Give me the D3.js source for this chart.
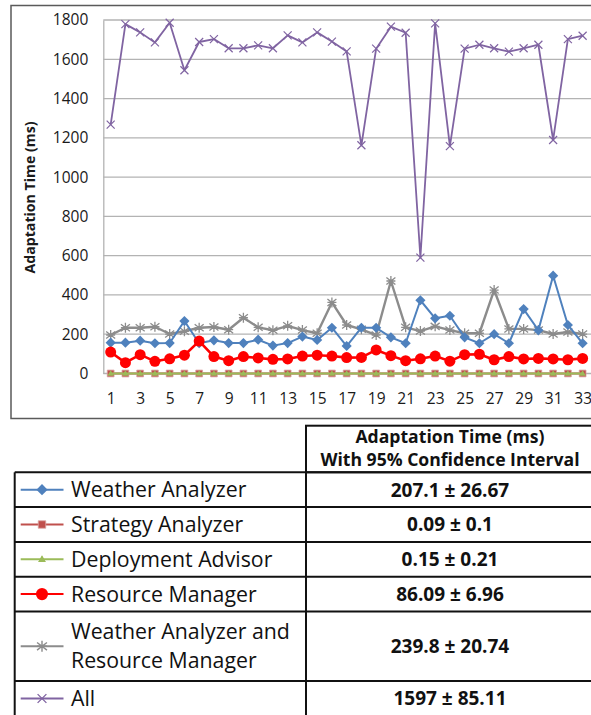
<!DOCTYPE html>
<html>
<head>
<meta charset="utf-8">
<script src="https://cdn.jsdelivr.net/npm/d3@7.9.0/dist/d3.min.js"></script>
<style>
  html, body { margin: 0; padding: 0; background: #fff; }
  svg { display: block; font-family: "Open Sans", "Noto Sans", sans-serif; }
</style>
</head>
<body>
<svg id="chart" width="591" height="715"></svg>
<script>
// run index 1..33
const runs = d3.range(1, 34);
const yTicks = [0, 200, 400, 600, 800, 1000, 1200, 1400, 1600, 1800];

const weatherAnalyzer = [157, 157, 167, 154, 155, 267, 154, 169, 155, 155, 172, 142, 155, 188, 171, 233, 140,
  233, 233, 184, 154, 373, 281, 294, 184, 154, 200, 154, 328, 220, 498, 247, 154];
const strategyAnalyzer = [0.1, 0, 0.1, 0, 0.2, 0.1, 0, 0.1, 0.2, 0, 0.1, 0.1, 0, 0.2, 0.1, 0, 0.1,
  0.1, 0, 0.2, 0.1, 0, 0.1, 0.1, 0, 0.2, 0.1, 0, 0.1, 0.1, 0, 0.2, 0.1];
const deploymentAdvisor = [0.2, 0.1, 0, 0.3, 0.1, 0.2, 0.1, 0, 0.2, 0.3, 0.1, 0, 0.2, 0.1, 0.3, 0.1, 0,
  0.2, 0.1, 0.3, 0, 0.2, 0.1, 0.1, 0.3, 0, 0.2, 0.1, 0.1, 0.3, 0, 0.2, 0.1];
const resourceManager = [109, 55, 96, 62, 75, 93, 165, 86, 65, 86, 79, 72, 74, 89, 93, 89, 81,
  82, 120, 91, 65, 75, 89, 63, 96, 98, 70, 86, 74, 77, 74, 70, 77];
const weatherAndResource = [196, 233, 233, 238, 201, 215, 233, 237, 223, 284, 235, 220, 243, 221, 205, 362, 247,
  225, 196, 471, 235, 216, 240, 221, 205, 205, 425, 227, 227, 221, 201, 211, 201];
const allComponents = [1267, 1779, 1737, 1686, 1786, 1544, 1688, 1703, 1656, 1656, 1671, 1656, 1722, 1686, 1737, 1690, 1640,
  1162, 1654, 1766, 1735, 590, 1783, 1158, 1654, 1674, 1656, 1639, 1656, 1674, 1189, 1703, 1720];

const seriesNames = [["Weather Analyzer"], ["Strategy Analyzer"], ["Deployment Advisor"], ["Resource Manager"],
  ["Weather Analyzer and", "Resource Manager"], ["All"]];
const seriesValues = [weatherAnalyzer, strategyAnalyzer, deploymentAdvisor, resourceManager, weatherAndResource, allComponents];
const seriesColors = ["#4f81bd", "#c0504d", "#9bbb59", "#ff0000", "#8c8c8c", "#8064a2"];
const seriesMarkers = ["diamond", "square", "triangle", "circle", "star", "cross"];
const intervalText = ["207.1 \u00b1 26.67", "0.09 \u00b1 0.1", "0.15 \u00b1 0.21", "86.09 \u00b1 6.96", "239.8 \u00b1 20.74", "1597 \u00b1 85.11"];
const headerLines = ["Adaptation Time (ms)", "With 95% Confidence Interval"];

const svg = d3.select("#chart");

// ---- chart frame ----
svg.append("rect")
  .attr("x", 11).attr("y", 5.5).attr("width", 620).attr("height", 413)
  .attr("fill", "none").attr("stroke", "#5a5a5a").attr("stroke-width", 1.5);

const plot = { left: 103.3, right: 590, top: 20, bottom: 373.5 };
const x = d3.scalePoint().domain(runs).range([plot.left, plot.right]).padding(0.5);
const y = d3.scaleLinear().domain([0, 1800]).range([plot.bottom, plot.top]);

// gridlines
svg.append("g")
  .selectAll("line")
  .data(yTicks)
  .join("line")
  .attr("x1", plot.left).attr("x2", 595)
  .attr("y1", d => y(d)).attr("y2", d => y(d))
  .attr("stroke", "#b3b3b3").attr("stroke-width", 1.3);

// y axis
const yAxis = svg.append("g")
  .attr("transform", `translate(${plot.left},0)`)
  .call(d3.axisLeft(y).tickValues(yTicks).tickFormat(d3.format("d")).tickSize(0).tickPadding(15));
yAxis.select(".domain").attr("stroke", "#b3b3b3").attr("stroke-width", 1.3);
yAxis.selectAll("text").attr("font-size", 15.5).attr("fill", "#1a1a1a").attr("font-family", "Open Sans");

// x axis labels (odd runs only)
const xAxis = svg.append("g")
  .attr("transform", `translate(0,${plot.bottom})`)
  .call(d3.axisBottom(x).tickValues(runs.filter(d => d % 2 === 1)).tickSize(0).tickPadding(19));
xAxis.select(".domain").remove();
xAxis.selectAll("text").attr("font-size", 15.5).attr("fill", "#1a1a1a").attr("font-family", "Open Sans");

svg.append("text")
  .attr("transform", `translate(35,197.5) rotate(-90)`)
  .attr("text-anchor", "middle")
  .attr("font-size", 14).attr("font-weight", "bold").attr("fill", "#1a1a1a")
  .attr("textLength", 152).attr("lengthAdjust", "spacingAndGlyphs")
  .text("Adaptation Time (ms)");

// ---- marker drawing ----
function drawMarker(g, type, color, cx, cy, scale) {
  const s = scale || 1;
  if (type === "diamond") {
    g.append("path")
      .attr("d", d3.symbol(d3.symbolSquare, 52 * s * s)())
      .attr("transform", `translate(${cx},${cy}) rotate(45)`)
      .attr("fill", color);
  } else if (type === "square") {
    g.append("path")
      .attr("d", d3.symbol(d3.symbolSquare, 46 * s * s)())
      .attr("transform", `translate(${cx},${cy})`)
      .attr("fill", color).attr("stroke", "#d9a3a1").attr("stroke-width", 0.8);
  } else if (type === "triangle") {
    g.append("path")
      .attr("d", d3.symbol(d3.symbolTriangle, 18 * s * s)())
      .attr("transform", `translate(${cx},${cy + 0.5})`)
      .attr("fill", color);
  } else if (type === "circle") {
    g.append("circle")
      .attr("cx", cx).attr("cy", cy).attr("r", 5.5 * s)
      .attr("fill", color);
  } else if (type === "star") {
    g.append("path")
      .attr("d", `M0,-5L0,5M-4.5,-3.5L4.5,3.5M-4.5,3.5L4.5,-3.5M-4.5,0L-1,0M1,0L4.5,0`)
      .attr("transform", `translate(${cx},${cy}) scale(${s})`)
      .attr("stroke", color).attr("stroke-width", 1.3).attr("fill", "none");
  } else if (type === "cross") {
    g.append("path")
      .attr("d", `M-4,-4L4,4M-4,4L4,-4`)
      .attr("transform", `translate(${cx},${cy}) scale(${s})`)
      .attr("stroke", color).attr("stroke-width", 1.2).attr("fill", "none");
  }
}

const lineWidths = [2, 2, 2, 2.6, 2.4, 1.8];
const line = d3.line().x((d, i) => x(runs[i])).y(d => y(d));

// draw in an order that keeps the near-zero series on top
const drawOrder = [4, 0, 3, 1, 2, 5];
drawOrder.forEach(k => {
  const g = svg.append("g");
  g.append("path")
    .datum(seriesValues[k])
    .attr("d", line)
    .attr("fill", "none")
    .attr("stroke", seriesColors[k])
    .attr("stroke-width", lineWidths[k])
    .attr("stroke-linejoin", "round");
  seriesValues[k].forEach((v, i) => drawMarker(g, seriesMarkers[k], seriesColors[k], x(runs[i]), y(v)));
});

// ---- table ----
const table = { left: 14.7, mid: 306, right: 620, headTop: 425.7, bodyTop: 472.3, unit: 34.8 };
const rowUnits = [1, 1, 1, 1, 2, 1];
const rowTops = [];
let acc = table.bodyTop;
rowUnits.forEach(u => { rowTops.push(acc); acc += u * table.unit; });
const tableBottom = acc;

const tg = svg.append("g");
const stroke = { stroke: "#111", "stroke-width": 2 };

// header box
tg.append("rect")
  .attr("x", table.mid).attr("y", table.headTop)
  .attr("width", table.right - table.mid).attr("height", table.bodyTop - table.headTop)
  .attr("fill", "none").attr("stroke", stroke.stroke).attr("stroke-width", stroke["stroke-width"]);

headerLines.forEach((t, i) => {
  tg.append("text")
    .attr("x", 450).attr("y", 443 + i * 23)
    .attr("text-anchor", "middle")
    .attr("font-size", 17.6).attr("font-weight", "bold").attr("fill", "#111")
    .text(t);
});

// horizontal row lines
tg.selectAll("line.row")
  .data(rowTops.concat([tableBottom]))
  .join("line")
  .attr("class", "row")
  .attr("x1", table.left).attr("x2", table.right)
  .attr("y1", d => d).attr("y2", d => d)
  .attr("stroke", stroke.stroke).attr("stroke-width", stroke["stroke-width"]);

// vertical lines
[table.left, table.mid].forEach(vx => {
  tg.append("line")
    .attr("x1", vx).attr("x2", vx)
    .attr("y1", table.bodyTop).attr("y2", tableBottom)
    .attr("stroke", stroke.stroke).attr("stroke-width", stroke["stroke-width"]);
});

seriesNames.forEach((names, k) => {
  const top = rowTops[k];
  const cy = top + rowUnits[k] * table.unit / 2;
  const lg = tg.append("g");
  lg.append("line")
    .attr("x1", 20.7).attr("x2", 63.5)
    .attr("y1", cy).attr("y2", cy)
    .attr("stroke", seriesColors[k]).attr("stroke-width", 2);
  drawMarker(lg, seriesMarkers[k], seriesColors[k], 42, cy, 1.1);
  if (k === 2) drawMarker(lg, "triangle", seriesColors[k], 42, cy, 1.2);

  names.forEach((t, i) => {
    lg.append("text")
      .attr("x", 71)
      .attr("y", cy + (i - (names.length - 1) / 2) * 29)
      .attr("dy", "0.36em")
      .attr("font-size", 21.3).attr("fill", "#111")
      .text(t);
  });

  tg.append("text")
    .attr("x", 450).attr("y", cy)
    .attr("dy", "0.36em")
    .attr("text-anchor", "middle")
    .attr("font-size", 19).attr("font-weight", "bold").attr("fill", "#111")
    .text(intervalText[k]);
});
</script>
</body>
</html>
